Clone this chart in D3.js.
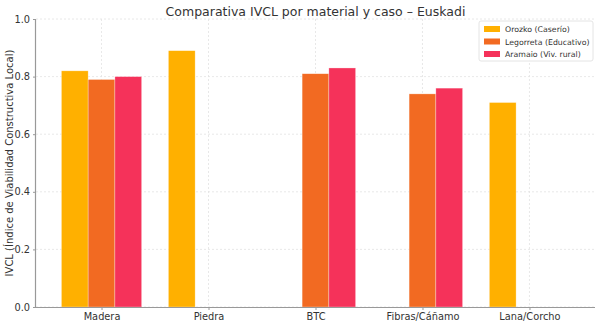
<!DOCTYPE html>
<html><head><meta charset="utf-8">
<script src="https://cdn.jsdelivr.net/npm/d3@7"></script>
<style>body{margin:0;background:#fff}svg{font-family:"DejaVu Sans",sans-serif}</style>
</head><body><svg id="c" width="600" height="325"></svg>
<script>
const categories = ["Madera","Piedra","BTC","Fibras/Cáñamo","Lana/Corcho"];
const seriesNames = ["Orozko (Caserío)","Legorreta (Educativo)","Aramaio (Viv. rural)"];
const orozko    = [0.82, 0.89, null, null, 0.71];
const legorreta = [0.79, null, 0.81, 0.74, null];
const aramaio   = [0.80, null, 0.83, 0.76, null];
const colors = ["#FFB000","#F26A22","#F5325A"];
const yTicks = [0.0,0.2,0.4,0.6,0.8,1.0];

const series = [orozko, legorreta, aramaio];
const svg = d3.select("#c");
const L=36, R=595, T=19, B=307;
const x = d3.scaleLinear().domain([-0.6125, 4.6125]).range([L,R]);
const y = d3.scaleLinear().domain([0,1]).range([B,T]);
const bw = 0.25;

// grid
const g = svg.append("g");
g.selectAll(".gy").data(yTicks).enter().append("line")
  .attr("x1",L).attr("x2",R).attr("y1",d=>y(d)).attr("y2",d=>y(d))
  .attr("stroke","#e2e2e2").attr("stroke-width",0.8).attr("stroke-dasharray","2,2");
g.selectAll(".gx").data(categories).enter().append("line")
  .attr("x1",(d,i)=>x(i)).attr("x2",(d,i)=>x(i)).attr("y1",T).attr("y2",B)
  .attr("stroke","#e2e2e2").attr("stroke-width",0.8).attr("stroke-dasharray","2,2");

// bars
series.forEach((s,k)=>{
  svg.append("g").selectAll("rect").data(s.map((v,i)=>({v,i})).filter(d=>d.v!=null)).enter()
    .append("rect")
    .attr("x",d=>x(d.i+(k-1)*bw-bw/2)).attr("width",x(bw)-x(0))
    .attr("y",d=>y(d.v)).attr("height",d=>y(0)-y(d.v))
    .attr("fill",colors[k]).attr("stroke","#fff").attr("stroke-opacity",0.5).attr("stroke-width",0.6);
});

// axes
const xa = svg.append("g").attr("transform",`translate(0,${B})`)
  .call(d3.axisBottom(x).tickValues(d3.range(categories.length)).tickFormat(i=>categories[i]).tickSize(3).tickPadding(3));
const ya = svg.append("g").attr("transform",`translate(${L},0)`)
  .call(d3.axisLeft(y).tickValues(yTicks).tickFormat(d3.format(".1f")).tickSize(3).tickPadding(3));
[xa,ya].forEach(a=>{
  a.select(".domain").attr("stroke","#999").attr("stroke-width",1.2);
  a.selectAll(".tick line").attr("stroke","#999");
  a.selectAll(".tick text").attr("fill","#333").attr("font-size",9.8).attr("font-family","DejaVu Sans");
});
xa.select(".domain").attr("d",`M${L},0.5H${R}`);
ya.select(".domain").attr("d",`M-0.5,${B}V${T}`);

// title
svg.append("text").attr("x",(L+R)/2).attr("y",16).attr("text-anchor","middle")
  .attr("font-size",12.5).attr("fill","#333").text("Comparativa IVCL por material y caso – Euskadi");
// y label
svg.append("text").attr("transform",`translate(13,${(T+B)/2}) rotate(-90)`).attr("text-anchor","middle")
  .attr("font-size",10).attr("fill","#333").text("IVCL (Índice de Viabilidad Constructiva Local)");

// legend
const lg = svg.append("g").attr("transform","translate(479,21)");
lg.append("rect").attr("width",114).attr("height",40).attr("rx",2)
  .attr("fill","#fff").attr("fill-opacity",0.85).attr("stroke","#ddd").attr("stroke-width",0.8);
seriesNames.forEach((n,k)=>{
  lg.append("rect").attr("x",5).attr("y",5+k*12.5).attr("width",16).attr("height",6).attr("fill",colors[k]);
  lg.append("text").attr("x",26).attr("y",11+k*12.5).attr("font-size",7.8).attr("fill","#333").text(n);
});
</script></body></html>
